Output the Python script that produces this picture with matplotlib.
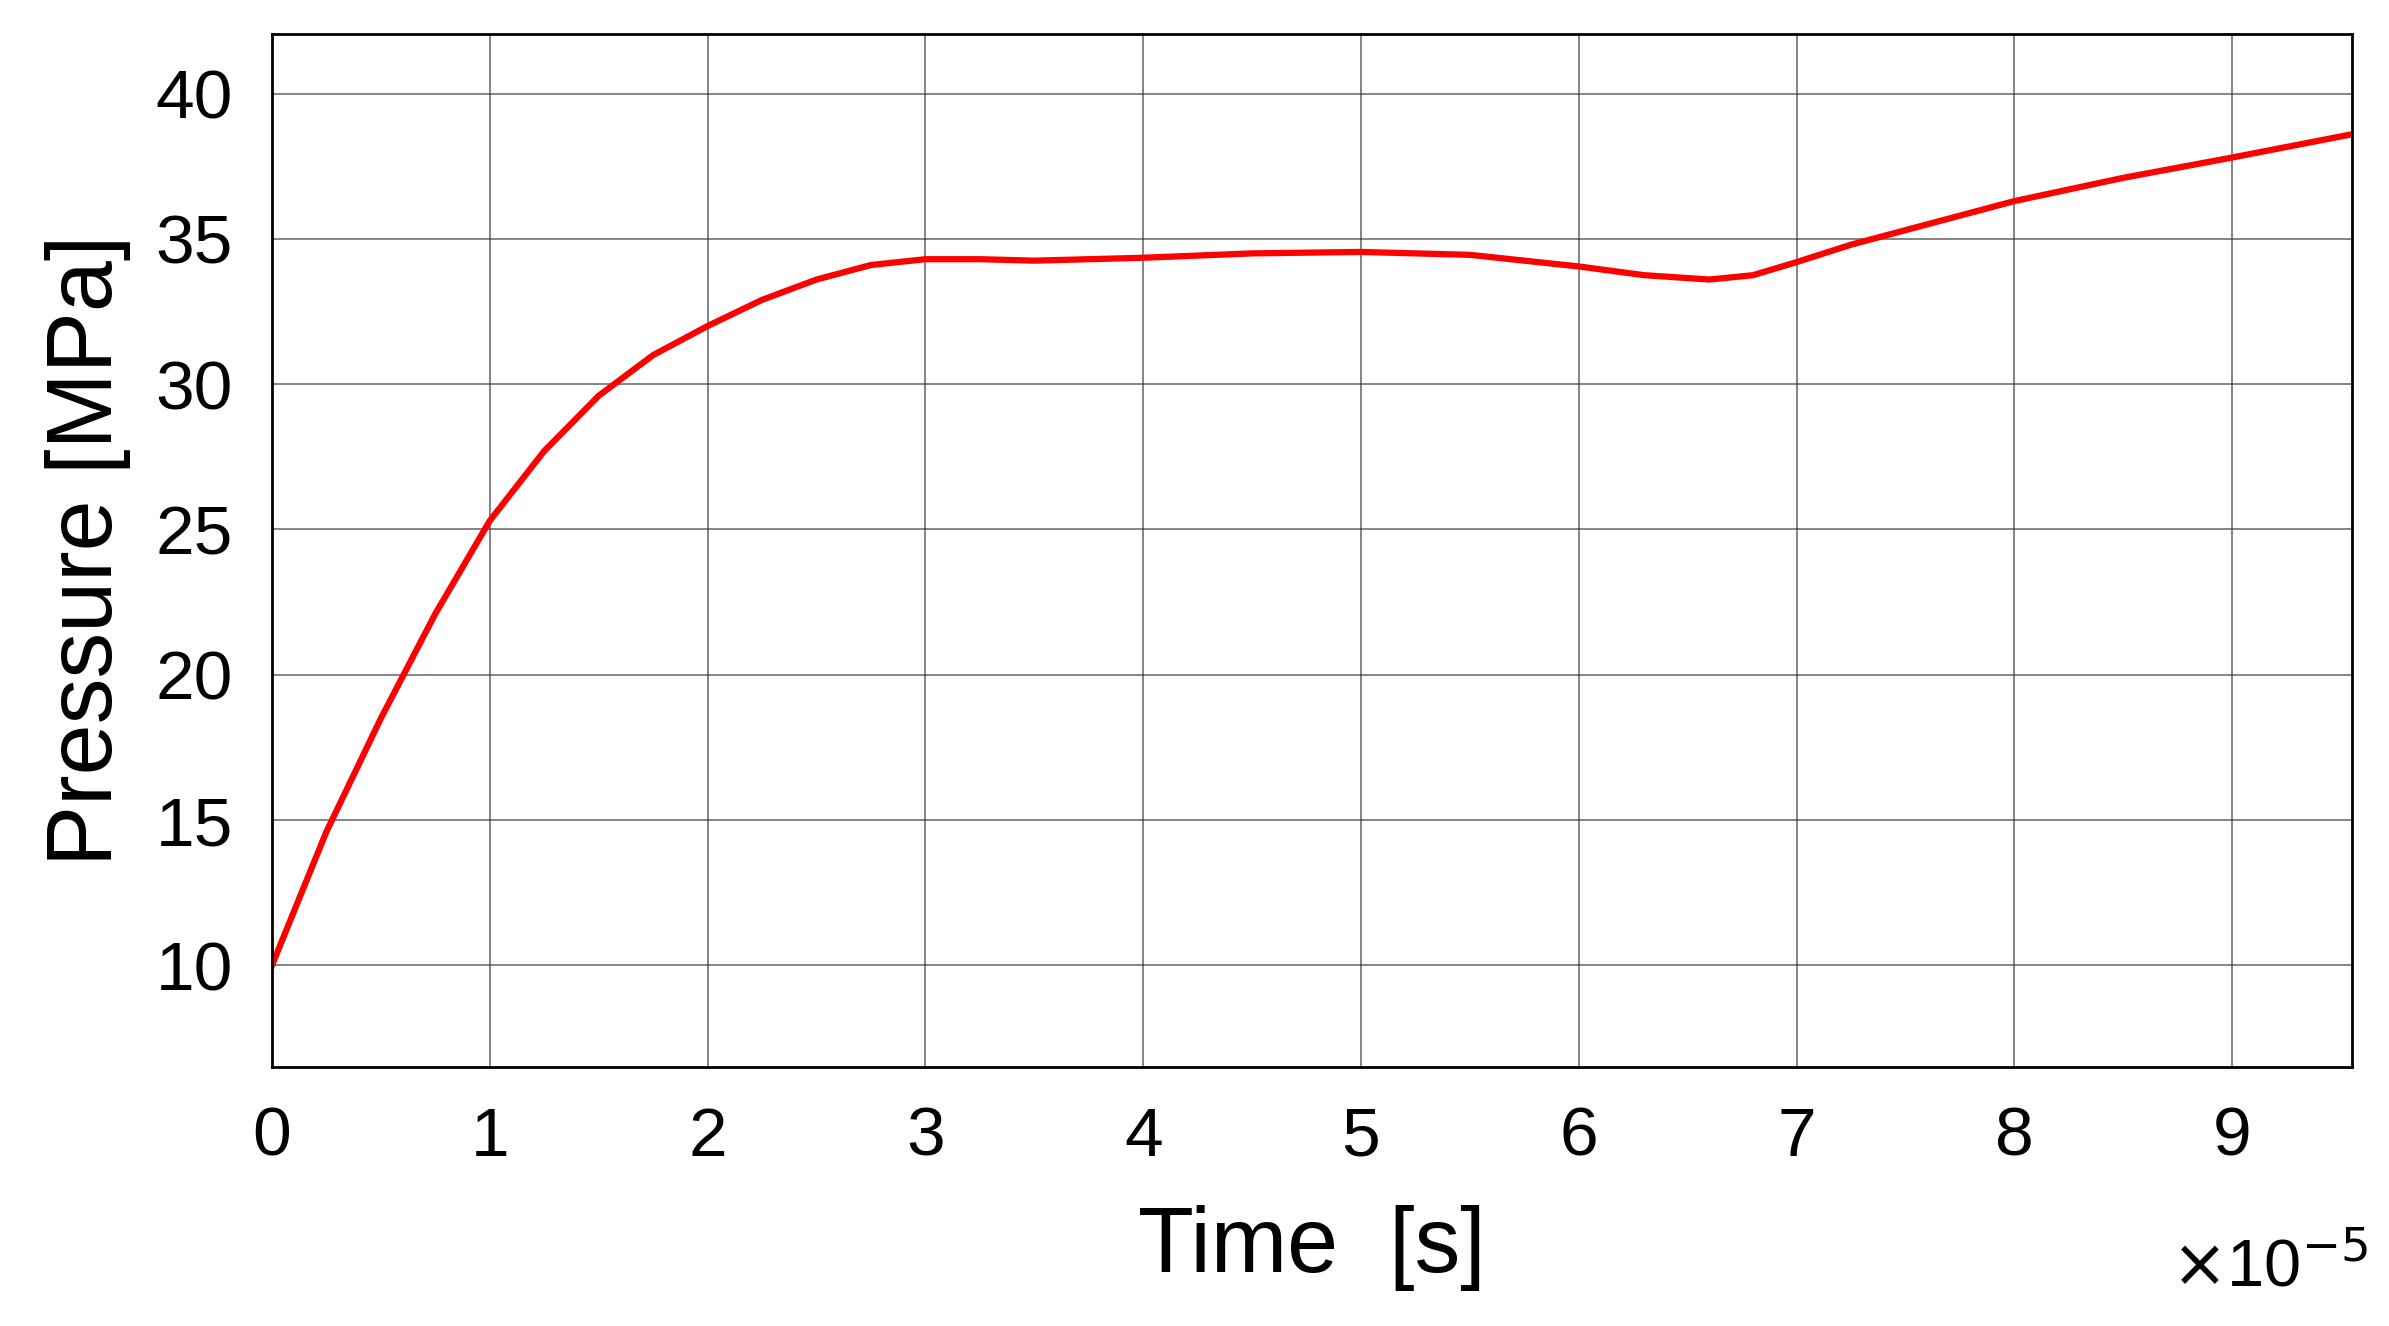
import matplotlib.pyplot as plt

plt.rcParams['font.family'] = ['Liberation Sans', 'DejaVu Sans']

# time in units of 1e-5 s, pressure in MPa
time = [0, 0.25, 0.5, 0.75, 1.0, 1.25, 1.5, 1.75, 2.0, 2.25, 2.5, 2.75, 3.0, 3.25, 3.5,
        4.0, 4.5, 5.0, 5.5, 6.0, 6.3, 6.6, 6.8, 7.0, 7.25, 7.5, 8.0, 8.5, 9.0, 9.55]
pressure = [10.0, 14.6, 18.5, 22.1, 25.3, 27.7, 29.6, 31.0, 32.0, 32.9, 33.6, 34.1, 34.3, 34.3, 34.25,
            34.35, 34.5, 34.55, 34.45, 34.05, 33.75, 33.6, 33.75, 34.2, 34.8, 35.3, 36.3, 37.1, 37.8, 38.6]

fig = plt.figure(figsize=(23.89, 13.26), dpi=100)
ax = fig.add_axes([272/2389, 1 - 1067/1326, 2080/2389, 1033/1326])
ax.plot(time, pressure, color='red', lw=4.5, solid_joinstyle='round')
ax.set_xlim(0, 9.55)
ax.set_ylim(6.5, 42.05)
ax.set_xticks(range(0, 10))
ax.set_yticks(range(10, 41, 5))
ax.grid(True, color='#333333', lw=1.2, alpha=0.7)
ax.tick_params(labelsize=50, length=0, pad=28)
for s in ax.spines.values():
    s.set_linewidth(2)
ax.set_xlabel('Time  [s]', fontsize=66, labelpad=25)
ax.set_ylabel('Pressure [MPa]', fontsize=66, labelpad=18)
fig.text(0.95, 0.03, r'$\times$10$^{-5}$', fontsize=48, ha='center')
fig.savefig('out.png', dpi=100)
